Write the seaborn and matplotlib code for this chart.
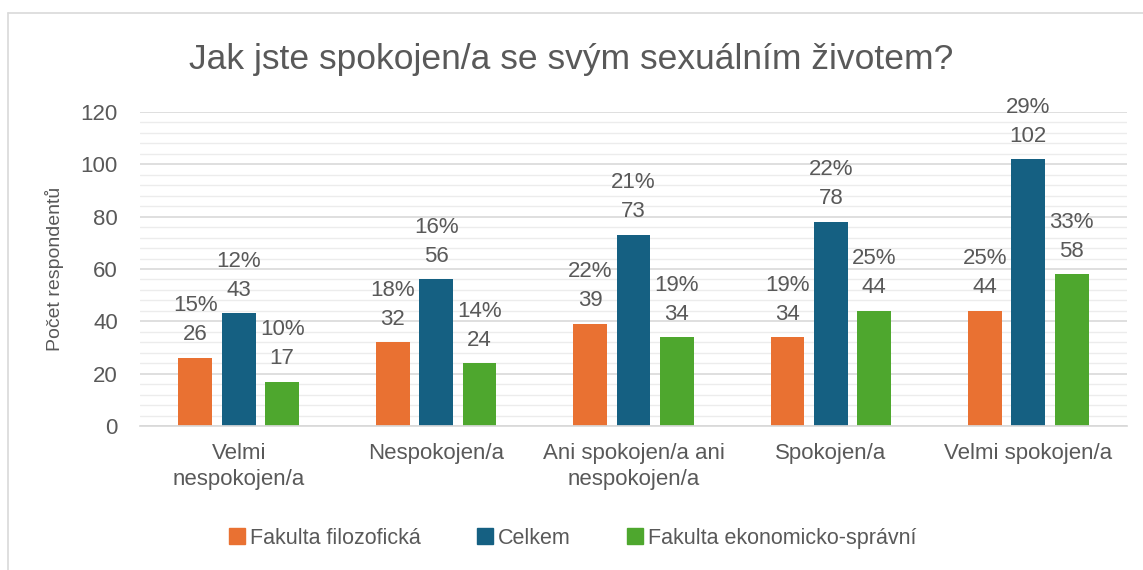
import matplotlib
matplotlib.use("Agg")
import matplotlib.pyplot as plt
import seaborn as sns
import pandas as pd
from matplotlib.ticker import MultipleLocator
from matplotlib.lines import Line2D

categories = ["Velmi\nnespokojen/a", "Nespokojen/a", "Ani spokojen/a ani\nnespokojen/a",
              "Spokojen/a", "Velmi spokojen/a"]
series = ["Fakulta filozofická", "Celkem", "Fakulta ekonomicko-správní"]
ff_values = [26, 32, 39, 34, 44]
celkem_values = [43, 56, 73, 78, 102]
fes_values = [17, 24, 34, 44, 58]
ff_pct = [15, 18, 22, 19, 25]
celkem_pct = [12, 16, 21, 22, 29]
fes_pct = [10, 14, 19, 25, 33]
colors = ["#E97132", "#156082", "#4EA72E"]
title = "Jak jste spokojen/a se svým sexuálním životem?"
ylabel = "Počet respondentů"

values = [ff_values, celkem_values, fes_values]
pcts = [ff_pct, celkem_pct, fes_pct]
rows = []
for s, vals in zip(series, values):
    for c, v in zip(categories, vals):
        rows.append({"cat": c, "series": s, "value": v})
df = pd.DataFrame(rows)

sns.set_theme(style="white")
plt.rcParams["font.family"] = ["Liberation Sans", "DejaVu Sans"]
txt = "#595959"

fig = plt.figure(figsize=(11.43, 5.70), dpi=100)
ax = fig.add_axes([0.1225, 0.2526, 0.8635, 0.5509])
sns.barplot(data=df, x="cat", y="value", hue="series", palette=colors,
            width=0.66, gap=0.22, ax=ax, legend=False, linewidth=0, saturation=1)

ax.set_ylim(0, 120)
ax.set_xlim(-0.5, len(categories) - 0.5)
ax.yaxis.set_major_locator(MultipleLocator(20))
ax.yaxis.set_minor_locator(MultipleLocator(4))
ax.grid(axis="y", which="major", color="#d9d9d9", linewidth=1.2)
ax.grid(axis="y", which="minor", color="#ececec", linewidth=1.0)
ax.set_axisbelow(True)
for sp in ["top", "right", "left"]:
    ax.spines[sp].set_visible(False)
ax.spines["bottom"].set_color("#d9d9d9")
ax.tick_params(axis="both", which="both", length=0, labelsize=16, colors=txt)
ax.tick_params(axis="y", pad=16)
ax.tick_params(axis="x", pad=12)
for lab in ax.get_xticklabels():
    lab.set_linespacing(1.35)
ax.set_xlabel("")
ax.set_ylabel(ylabel, fontsize=14, color=txt, labelpad=12)

for cont, pc, vals in zip(ax.containers, pcts, values):
    labels = [f"{p}%\n{v}" for p, v in zip(pc, vals)]
    ax.bar_label(cont, labels=labels, padding=9, fontsize=16, color=txt, linespacing=1.5)

fig.text(0.5, 0.895, title, ha="center", va="center", fontsize=25.5, color=txt)

handles = [Line2D([0], [0], marker="s", linestyle="", markersize=11,
                  markerfacecolor=c, markeredgecolor=c) for c in colors]
fig.legend(handles, series, loc="center", bbox_to_anchor=(0.5, 0.056), ncol=3,
           frameon=False, fontsize=15.5, labelcolor=txt, handletextpad=0.1,
           columnspacing=2.5, handlelength=1.0)

fig.add_artist(Line2D([8 / 1143, 1.0], [1 - 13 / 570, 1 - 13 / 570],
                      transform=fig.transFigure, color="#d9d9d9", linewidth=1.2))
fig.add_artist(Line2D([8 / 1143, 8 / 1143], [0, 1 - 13 / 570],
                      transform=fig.transFigure, color="#d9d9d9", linewidth=1.2))

fig.savefig("out.png", dpi=100)
